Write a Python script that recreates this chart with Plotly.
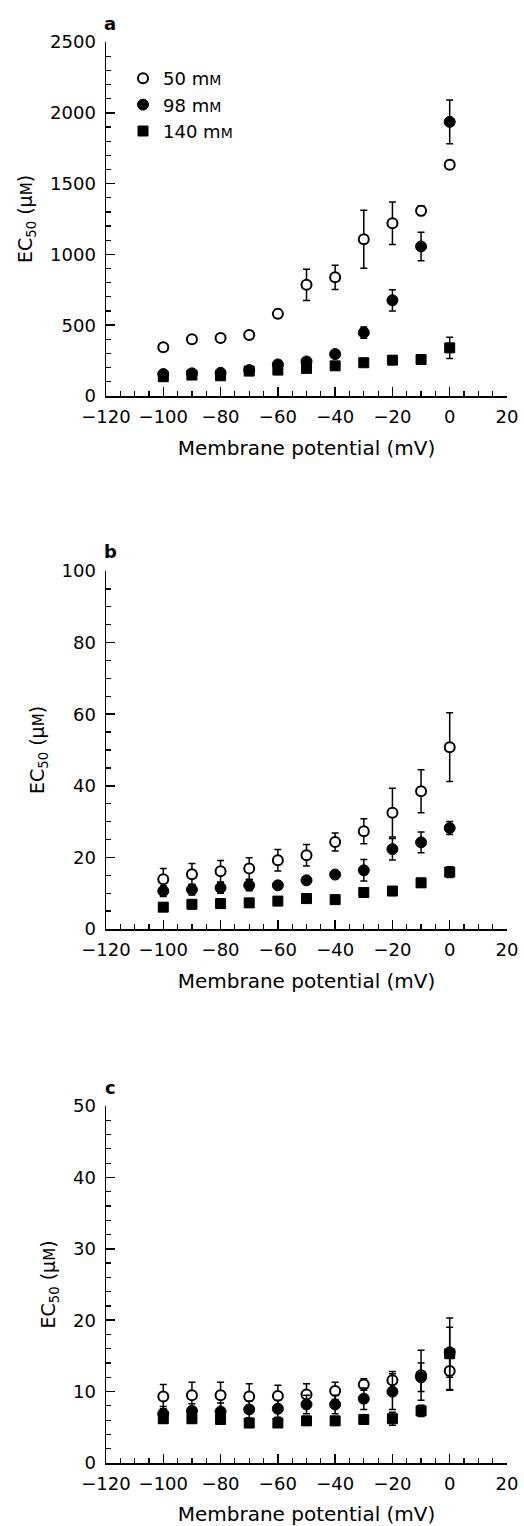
import plotly.graph_objects as go

# ---------------- data ----------------
potential = [-100, -90, -80, -70, -60, -50, -40, -30, -20, -10, 0]

series_names = ["50 m<span style='font-size:14px'>M</span>",
                "98 m<span style='font-size:14px'>M</span>",
                "140 m<span style='font-size:14px'>M</span>"]

# panel a
a_50 = [345, 400, 410, 430, 580, 785, 838, 1107, 1220, 1309, 1633]
a_50_err = [20, 20, 20, 25, 30, 110, 85, 205, 150, 35, 30]
a_98 = [155, 160, 164, 183, 223, 244, 296, 448, 676, 1056, 1936]
a_98_err = [15, 15, 15, 15, 20, 20, 20, 40, 75, 100, 155]
a_140 = [136, 148, 143, 176, 183, 195, 213, 235, 253, 258, 340]
a_140_err = [20, 15, 15, 15, 15, 15, 15, 20, 15, 15, 75]

# panel b
b_50 = [13.9, 15.3, 16.1, 16.9, 19.2, 20.6, 24.3, 27.3, 32.5, 38.5, 50.8]
b_50_err = [3, 3, 3, 3, 3, 3, 2.5, 3.5, 6.8, 6, 9.6]
b_98 = [10.6, 11.0, 11.5, 12.2, 12.2, 13.6, 15.2, 16.4, 22.3, 24.2, 28.2]
b_98_err = [1.5, 1.5, 1.5, 1.5, 1, 1, 1, 3, 3, 2.9, 1.8]
b_140 = [6.1, 6.9, 7.1, 7.3, 7.8, 8.5, 8.2, 10.2, 10.6, 12.9, 15.9]
b_140_err = [1, 0.8, 0.8, 0.8, 0.8, 0.8, 0.8, 1, 0.8, 1.2, 1.5]

# panel c
c_50 = [9.3, 9.5, 9.5, 9.3, 9.4, 9.6, 10.1, 11.0, 11.6, 12.3, 12.9]
c_50_err = [1.7, 1.8, 1.8, 1.8, 1.5, 1.5, 1.2, 0.8, 1.2, 3.5, 2.7]
c_98 = [6.9, 7.3, 7.2, 7.5, 7.6, 8.2, 8.2, 9.0, 10.0, 12.0, 15.5]
c_98_err = [1, 1, 1.2, 1.2, 1.2, 1.3, 1.3, 1.5, 2.5, 2, 3.5]
c_140 = [6.2, 6.2, 6.1, 5.6, 5.6, 5.9, 5.9, 6.1, 6.2, 7.3, 15.3]
c_140_err = [0.6, 0.6, 0.6, 0.6, 0.6, 0.6, 0.6, 0.6, 0.9, 0.8, 5]

panels = [
    ("a", [a_50, a_98, a_140], [a_50_err, a_98_err, a_140_err], 2500, 500, 100),
    ("b", [b_50, b_98, b_140], [b_50_err, b_98_err, b_140_err], 100, 20, 5),
    ("c", [c_50, c_98, c_140], [c_50_err, c_98_err, c_140_err], 50, 10, 2),
]

# ---------------- style ----------------
W, H = 524, 1526
FONT = "DejaVu Sans"

x_left, x_right = 106, 507
panel_px = [(42, 396), (571, 929), (1106, 1463)]  # rows top, bottom
marker_styles = [
    dict(symbol="circle", size=10, color="white", line=dict(color="black", width=2)),
    dict(symbol="circle", size=11, color="black", line=dict(color="black", width=1)),
    dict(symbol="square", size=10, color="black", line=dict(color="black", width=1)),
]

fig = go.Figure()
layout = dict(
    width=W, height=H, autosize=False,
    margin=dict(l=0, r=0, t=0, b=0),
    paper_bgcolor="white", plot_bgcolor="white",
    font=dict(family=FONT, size=18, color="black"),
    showlegend=True,
    legend=dict(x=123 / W, y=1 - 60 / H, xanchor="left", yanchor="top",
                bgcolor="rgba(0,0,0,0)", font=dict(size=18, color="black", family=FONT),
                tracegroupgap=0, itemwidth=30),
)
annotations = []

for i, (label, ys, errs, ymax, ydt, yminor) in enumerate(panels):
    n = "" if i == 0 else str(i + 1)
    top, bot = panel_px[i]
    for j in range(3):
        fig.add_trace(go.Scatter(
            x=potential, y=ys[j], mode="markers", name=series_names[j],
            marker=marker_styles[j],
            error_y=dict(type="data", array=errs[j], visible=True,
                         color="black", thickness=1.5, width=3.5),
            xaxis="x" + n, yaxis="y" + n, showlegend=(i == 0),
            cliponaxis=False,
        ))
    common = dict(showline=True, linecolor="black", linewidth=1.5,
                  ticks="inside", ticklen=9, tickwidth=1.5, tickcolor="black",
                  showgrid=False, zeroline=False, automargin=False,
                  tickfont=dict(size=18, color="black", family=FONT))
    layout["xaxis" + n] = dict(
        common, domain=[x_left / W, x_right / W], range=[-120, 20],
        tick0=-120, dtick=20, anchor="y" + n, ticklabelstandoff=4,
        minor=dict(ticks="inside", ticklen=5, tickwidth=1.2, tickcolor="black", dtick=5),
        title=dict(text="Membrane potential (mV)", font=dict(size=20, family=FONT), standoff=15),
    )
    layout["yaxis" + n] = dict(
        common, domain=[1 - bot / H, 1 - top / H], range=[0, ymax],
        tick0=0, dtick=ydt, anchor="x" + n, ticklabelstandoff=5,
        minor=dict(ticks="inside", ticklen=5, tickwidth=1.2, tickcolor="black", dtick=yminor),
        title=dict(text="EC<sub>50</sub> (μ<span style='font-size:15px'>M</span>)",
                   font=dict(size=19, family=FONT), standoff=12),
    )
    annotations.append(dict(text="<b>" + label + "</b>", x=110 / W, y=1 - (top - 19) / H,
                            xref="paper", yref="paper", showarrow=False,
                            xanchor="center", yanchor="middle",
                            font=dict(size=18, color="black", family=FONT)))

layout["annotations"] = annotations
fig.update_layout(**layout)
# remove the default page margin so the figure fills the window exactly
fig.write_html("out.html",
               config={"displayModeBar": False, "staticPlot": True},
               post_script="document.body.style.margin='0';"
                           "document.documentElement.style.overflow='hidden';")
